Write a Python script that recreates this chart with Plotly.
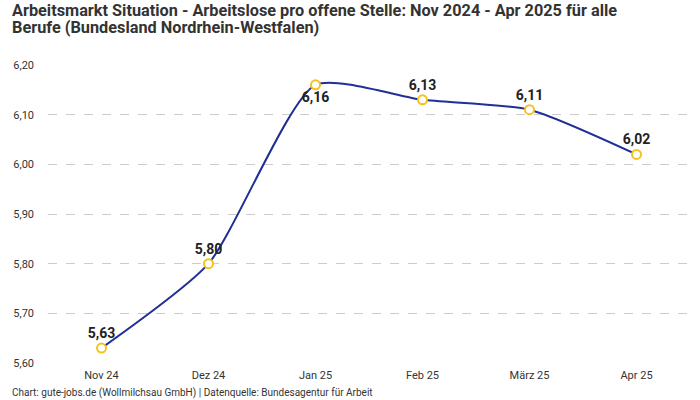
import plotly.graph_objects as go

months = ["Nov 24", "Dez 24", "Jan 25", "Feb 25", "März 25", "Apr 25"]
values = [5.63, 5.80, 6.16, 6.13, 6.11, 6.02]
label_pos = ["top center", "top center", "bottom center", "top center", "top center", "top center"]
y_ticks = [5.6, 5.7, 5.8, 5.9, 6.0, 6.1, 6.2]

title_line1 = "Arbeitsmarkt Situation - Arbeitslose pro offene Stelle: Nov 2024 - Apr 2025 für alle"
title_line2 = "Berufe (Bundesland Nordrhein-Westfalen)"
source_text = "Chart: gute-jobs.de (Wollmilchsau GmbH) | Datenquelle: Bundesagentur für Arbeit"

W, H = 700, 400
L, R, T, B = 48, 10, 65, 37
PW, PH = W - L - R, H - T - B

def px_to_paper_x(x):
    return (x - L) / PW

def px_to_paper_y(y):
    return (H - B - y) / PH

fig = go.Figure()
fig.add_trace(go.Scatter(
    x=list(range(len(months))), y=values,
    mode="lines+markers+text",
    line=dict(color="#1f2f96", width=2, shape="spline", smoothing=0.6),
    marker=dict(size=9, color="white", line=dict(color="#f5c21b", width=2)),
    text=[f"{v:.2f}".replace(".", ",") for v in values],
    textposition=label_pos,
    textfont=dict(family="Roboto", size=14, color="#222222", weight="bold"),
    cliponaxis=False,
    hoverinfo="skip",
))

fig.update_layout(
    width=W, height=H,
    margin=dict(l=L, r=R, t=T, b=B),
    paper_bgcolor="white", plot_bgcolor="white",
    separators=",.",
    showlegend=False,
    font=dict(family="Roboto", color="#333333"),
)
fig.update_xaxes(
    range=[-0.5, 5.5], tickmode="array", tickvals=list(range(len(months))), ticktext=months,
    showgrid=False, zeroline=False, showline=False, ticks="", ticklabelstandoff=4,
    tickfont=dict(family="Roboto", size=11, color="#333333"),
)
fig.update_yaxes(
    range=[5.6, 6.2], tickmode="array", tickvals=y_ticks, tickformat=".2f",
    showgrid=True, gridcolor="#cccccc", griddash="dash", gridwidth=1,
    zeroline=False, showline=False, ticks="", ticklabelstandoff=13,
    tickfont=dict(family="Roboto", size=11, color="#333333"),
)
for txt, yc in [(title_line1, 10), (title_line2, 27)]:
    fig.add_annotation(text=txt, xref="paper", yref="paper",
                       x=px_to_paper_x(10), y=px_to_paper_y(yc),
                       xanchor="left", yanchor="middle", showarrow=False,
                       font=dict(family="Roboto", size=16.3, color="#333333", weight="bold"))
fig.add_annotation(text=source_text, xref="paper", yref="paper",
                   x=px_to_paper_x(10), y=px_to_paper_y(393),
                   xanchor="left", yanchor="middle", showarrow=False,
                   font=dict(family="Roboto", size=10, color="#333333"))

# remove the default 8px page margin so the figure fills the window exactly
fig.write_html("out.html", config={"displayModeBar": False},
               post_script="document.body.style.margin='0px';")
